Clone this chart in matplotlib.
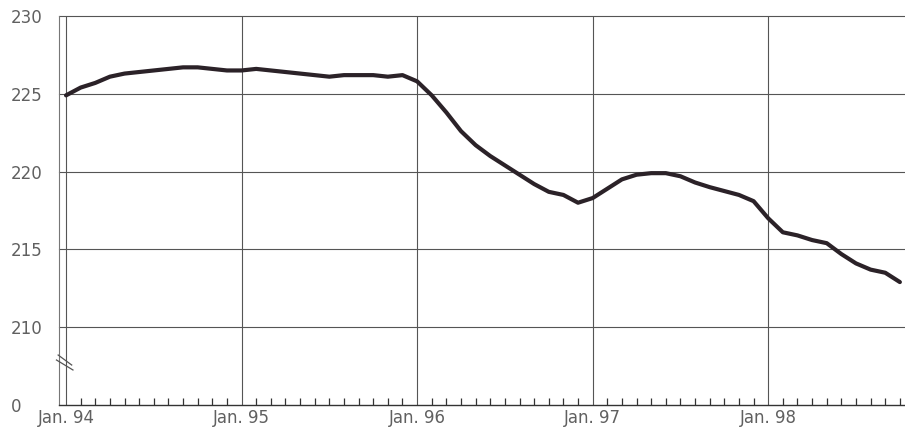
import numpy as np
import matplotlib
matplotlib.use("Agg")
import matplotlib.pyplot as plt

# monthly values, Jan. 94 .. Oct. 98
values = [224.9, 225.4, 225.7, 226.1, 226.3, 226.4, 226.5, 226.6, 226.7, 226.7, 226.6, 226.5,
          226.5, 226.6, 226.5, 226.4, 226.3, 226.2, 226.1, 226.2, 226.2, 226.2, 226.1, 226.2,
          225.8, 224.9, 223.8, 222.6, 221.7, 221.0, 220.4, 219.8, 219.2, 218.7, 218.5, 218.0,
          218.3, 218.9, 219.5, 219.8, 219.9, 219.9, 219.7, 219.3, 219.0, 218.75, 218.5, 218.1,
          217.0, 216.1, 215.9, 215.6, 215.4, 214.7, 214.1, 213.7, 213.5, 212.9]
year_labels = ["Jan. 94", "Jan. 95", "Jan. 96", "Jan. 97", "Jan. 98"]
y_ticks = [205, 210, 215, 220, 225, 230]
y_labels = ["0", "210", "215", "220", "225", "230"]

grid_col = "#555555"
text_col = "#606060"

fig = plt.figure(figsize=(9.05, 4.3), dpi=100)
ax = fig.add_axes([59 / 905, 25 / 430, 1 - 59 / 905, 389 / 430])

x = np.arange(len(values))
ax.plot(x, values, color="#2b2228", lw=3.0, solid_capstyle="round", solid_joinstyle="round", zorder=5)

ax.set_xlim(-0.48, 57.35)
ax.set_ylim(205, 230)

ax.set_xticks(np.arange(len(year_labels)) * 12)
ax.set_xticklabels(year_labels)
ax.set_xticks(np.arange(0, 58), minor=True)
ax.set_yticks(y_ticks)
ax.set_yticklabels(y_labels)

ax.tick_params(axis="x", which="major", length=0, pad=3, labelsize=12, labelcolor=text_col)
ax.tick_params(axis="x", which="minor", direction="in", length=5, width=0.9, color="#333333")
ax.tick_params(axis="y", length=0, pad=35, labelsize=12, labelcolor=text_col)
for lab in ax.get_yticklabels():
    lab.set_horizontalalignment("left")

# grid
for yy in y_ticks[1:]:
    ax.axhline(yy, color=grid_col, lw=0.8, zorder=1, clip_on=False)
for xx in np.arange(len(year_labels)) * 12:
    ax.axvline(xx, color=grid_col, lw=0.8, zorder=1)

for s in ["top", "right"]:
    ax.spines[s].set_visible(False)
ax.spines["left"].set_color("#777777")
ax.spines["left"].set_linewidth(0.8)
ax.spines["bottom"].set_color("#333333")
ax.spines["bottom"].set_linewidth(1.0)

# axis break marks
ax.plot([-0.001, 0.015], [0.1285, 0.1028], transform=ax.transAxes,
        color="#555555", lw=0.9, clip_on=False, zorder=6)
ax.plot([-0.003, 0.0165], [0.1157, 0.0900], transform=ax.transAxes,
        color="#555555", lw=0.9, clip_on=False, zorder=6)

fig.savefig("out.png", dpi=100)
